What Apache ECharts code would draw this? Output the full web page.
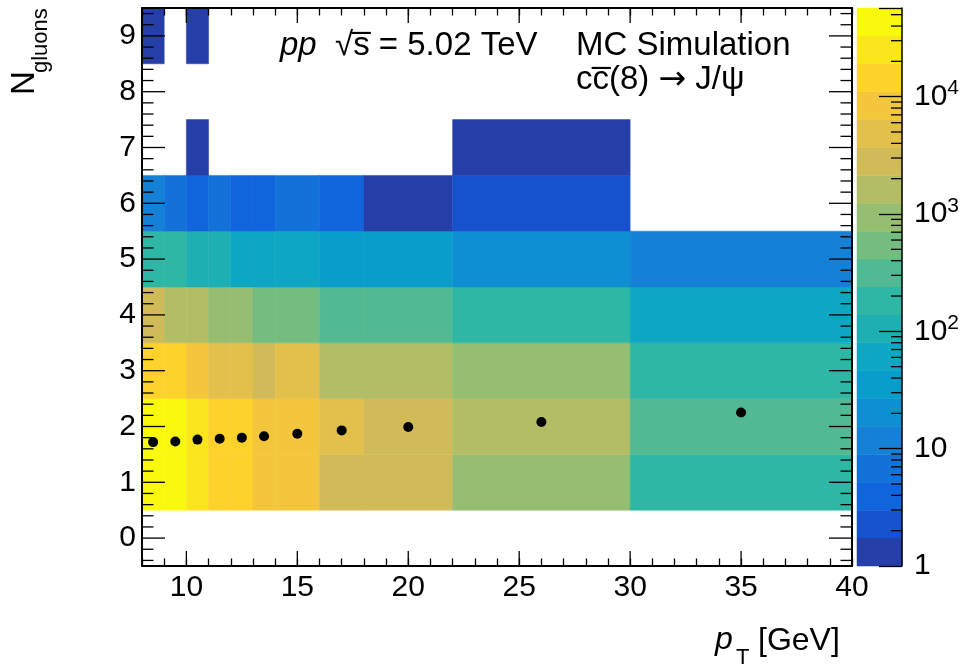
<!DOCTYPE html>
<html><head><meta charset="utf-8">
<script src="https://cdn.jsdelivr.net/npm/echarts@6/dist/echarts.min.js"></script>
<style>html,body{margin:0;padding:0;background:#fff}#c{width:969px;height:670px}</style>
</head><body><div id="c"></div>
<script>
// ---------------- data ----------------
const ptEdges = [8, 9, 10, 11, 12, 13, 14, 16, 18, 22, 30, 40];
const nGluonValues = [0, 1, 2, 3, 4, 5, 6, 7, 8, 9];
const countsNg0 = [0, 0, 0, 0, 0, 0, 0, 0, 0, 0, 0];
const countsNg1 = [43000, 43000, 25000, 14500, 14500, 8400, 8400, 2800, 2800, 930, 180];
const countsNg2 = [43000, 43000, 25000, 14500, 14500, 8400, 8400, 4800, 2800, 1600, 310];
const countsNg3 = [14500, 14500, 8400, 4800, 4800, 2800, 4800, 1600, 1600, 930, 180];
const countsNg4 = [2800, 1600, 1600, 930, 930, 540, 540, 310, 310, 180, 60];
const countsNg5 = [180, 180, 105, 105, 60, 60, 60, 35, 35, 20, 11];
const countsNg6 = [11, 6, 4, 6, 4, 4, 6, 4, 1, 2, 0];
const countsNg7 = [0, 0, 1, 0, 0, 0, 0, 0, 0, 1, 0];
const countsNg8 = [0, 0, 0, 0, 0, 0, 0, 0, 0, 0, 0];
const countsNg9 = [1, 0, 1, 0, 0, 0, 0, 0, 0, 0, 0];
const countsByNg = [countsNg0, countsNg1, countsNg2, countsNg3, countsNg4, countsNg5, countsNg6, countsNg7, countsNg8, countsNg9];

const meanPt = [8.5, 9.5, 10.5, 11.5, 12.5, 13.5, 15, 17, 20, 26, 35];
const meanNg = [1.72, 1.73, 1.765, 1.78, 1.80, 1.825, 1.87, 1.93, 1.99, 2.08, 2.25];

const xTickValues = [10, 15, 20, 25, 30, 35, 40];
const yTickValues = [0, 1, 2, 3, 4, 5, 6, 7, 8, 9];
const zTickValues = [1, 10, 100, 1000, 10000];
const zMin = 1, zMax = 57000, nContours = 20;

// ---------------- palette (ROOT kBird, 255 colours, 20 contours) ----------------
const stops = [0.0, 0.125, 0.25, 0.375, 0.5, 0.625, 0.75, 0.875, 1.0];
const red   = [0.2082, 0.0592, 0.0780, 0.0232, 0.1802, 0.5301, 0.8186, 0.9956, 0.9764];
const green = [0.1664, 0.3599, 0.5041, 0.6419, 0.7178, 0.7492, 0.7328, 0.7862, 0.9832];
const blue  = [0.5293, 0.8684, 0.8385, 0.7914, 0.6425, 0.4662, 0.3499, 0.1968, 0.0539];
const NCOL = 255;
const palette = [];
for (let g = 1; g < stops.length; g++) {
  const n = Math.floor(NCOL * stops[g]) - Math.floor(NCOL * stops[g - 1]);
  for (let c = 0; c < n; c++) {
    const f = c / n;
    const r = red[g - 1] + (red[g] - red[g - 1]) * f;
    const gg = green[g - 1] + (green[g] - green[g - 1]) * f;
    const b = blue[g - 1] + (blue[g] - blue[g - 1]) * f;
    palette.push('rgb(' + Math.round(r * 255) + ',' + Math.round(gg * 255) + ',' + Math.round(b * 255) + ')');
  }
}
const contourColors = [];
for (let i = 0; i < nContours; i++) {
  let idx = Math.floor((i + 0.99) * palette.length / nContours);
  if (idx > palette.length - 1) idx = palette.length - 1;
  contourColors.push(palette[idx]);
}
const lzMax = Math.log10(zMax), lzMin = Math.log10(zMin);
function colorFor(v) {
  let k = Math.floor((Math.log10(v) - lzMin) / (lzMax - lzMin) * nContours);
  k = Math.max(0, Math.min(nContours - 1, k));
  return contourColors[k];
}

const cells = [];
nGluonValues.forEach((ng, r) => {
  countsByNg[r].forEach((v, c) => {
    if (v > 0) cells.push([ptEdges[c], ptEdges[c + 1], ng, v]);
  });
});
const bands = [];
for (let i = 0; i < nContours; i++) {
  const lo = Math.pow(10, lzMin + (lzMax - lzMin) * i / nContours);
  const hi = Math.pow(10, lzMin + (lzMax - lzMin) * (i + 1) / nContours);
  bands.push([0, lo, hi, i]);
}
const points = meanPt.map((x, i) => [x, meanNg[i]]);

// tick positions (frame ticks drawn as small rect symbols through the axis scales)
const X0 = 8, X1 = 40, Y0 = -0.5, Y1 = 9.5;
const yMinorValues = [];
for (let k = -2; k <= 47; k++) { if (k % 5 !== 0) yMinorValues.push(+(k * 0.2).toFixed(1)); }
const zMinorValues = [];
for (let d = 1; d <= 10000; d *= 10) for (let m = 2; m <= 9; m++) if (m * d <= zMax) zMinorValues.push(m * d);

// ---------------- layout ----------------
const FONT = '"Liberation Sans", Arial, Helvetica, sans-serif';
const black = '#000';
const lineSt = { color: black, width: 2 };
const tickSt = { color: black, width: 1.3 };
const TW = 1.3;

function tickSeries(xi, yi, data, w, h, off) {
  return {
    type: 'scatter', xAxisIndex: xi, yAxisIndex: yi, data: data, z: 5, clip: false, silent: true,
    symbol: 'rect', symbolSize: [w, h], symbolOffset: off,
    itemStyle: { color: black, opacity: 1 }, emphasis: { disabled: true }
  };
}

const option = {
  animation: false,
  backgroundColor: '#fff',
  grid: [
    { left: 142, top: 8, width: 710, height: 558, show: false },
    { left: 857, top: 8, width: 45, height: 558, show: false }
  ],
  xAxis: [
    {
      gridIndex: 0, type: 'value', min: X0, max: X1, interval: 1, position: 'bottom', z: 10,
      axisLine: { show: true, onZero: false, lineStyle: lineSt },
      axisTick: { show: true, inside: true, length: 7.5, lineStyle: tickSt },
      axisLabel: { show: true, customValues: xTickValues, color: black, fontSize: 30, fontFamily: FONT, margin: 7 },
      splitLine: { show: false }
    },
    {
      gridIndex: 0, type: 'value', min: X0, max: X1, interval: 1, position: 'top', z: 10,
      axisLine: { show: true, onZero: false, lineStyle: lineSt },
      axisTick: { show: true, inside: true, length: 7.5, lineStyle: tickSt },
      axisLabel: { show: false }, splitLine: { show: false }
    },
    { gridIndex: 1, type: 'value', min: 0, max: 1, show: false }
  ],
  yAxis: [
    {
      gridIndex: 0, type: 'value', min: Y0, max: Y1, position: 'left', z: 10,
      axisLine: { show: true, onZero: false, lineStyle: lineSt },
      axisTick: { show: false },
      axisLabel: { show: true, customValues: yTickValues, color: black, fontSize: 30, fontFamily: FONT, margin: 6 },
      splitLine: { show: false }
    },
    {
      gridIndex: 0, type: 'value', min: Y0, max: Y1, position: 'right', z: 10,
      axisLine: { show: true, onZero: false, lineStyle: lineSt },
      axisTick: { show: false }, axisLabel: { show: false }, splitLine: { show: false }
    },
    {
      gridIndex: 1, type: 'log', logBase: 10, min: zMin, max: zMax, position: 'right', z: 10,
      axisLine: { show: true, onZero: false, lineStyle: { color: black, width: 1.5 } },
      axisTick: { show: true, inside: true, length: 23, lineStyle: tickSt },
      axisLabel: {
        show: true, customValues: zTickValues, color: black, fontSize: 30, fontFamily: FONT, margin: 12,
        formatter: v => (v < 50 ? String(Math.round(v)) : '10{sup|' + Math.round(Math.log10(v)) + '}'),
        rich: { sup: { fontSize: 21, fontFamily: FONT, color: black, verticalAlign: 'bottom', padding: [0, 0, 16, 0] } }
      },
      splitLine: { show: false }
    }
  ],
  series: [
    {
      type: 'custom', xAxisIndex: 0, yAxisIndex: 0, data: cells, z: 1,
      encode: { x: [0, 1], y: 2 },
      renderItem: (params, api) => {
        const x0 = api.value(0), x1 = api.value(1), y = api.value(2), v = api.value(3);
        const p0 = api.coord([x0, y - 0.5]);
        const p1 = api.coord([x1, y + 0.5]);
        const col = colorFor(v);
        return { type: 'rect', shape: { x: p0[0], y: p1[1], width: p1[0] - p0[0], height: p0[1] - p1[1] },
                 style: { fill: col, stroke: col, lineWidth: 0.5 } };
      }
    },
    {
      type: 'scatter', xAxisIndex: 0, yAxisIndex: 0, data: points, z: 3,
      symbol: 'circle', symbolSize: 10, itemStyle: { color: black, opacity: 1 }
    },
    {
      type: 'custom', xAxisIndex: 2, yAxisIndex: 2, data: bands, z: 1,
      encode: { x: 0, y: [1, 2] },
      renderItem: (params, api) => {
        const lo = api.value(1), hi = api.value(2), i = api.value(3);
        const p0 = api.coord([0, lo]);
        const p1 = api.coord([1, hi]);
        const col = contourColors[i];
        return { type: 'rect', shape: { x: p0[0], y: p1[1], width: p1[0] - p0[0], height: p0[1] - p1[1] },
                 style: { fill: col, stroke: col, lineWidth: 0.5 } };
      }
    },
    // frame ticks
    tickSeries(0, 0, xTickValues.map(v => [v, Y0]), TW, 15, [0, -7.5]),
    tickSeries(0, 0, xTickValues.map(v => [v, Y1]), TW, 15, [0, 7.5]),
    tickSeries(0, 0, yTickValues.map(v => [X0, v]), 23, TW, [11.5, 0]),
    tickSeries(0, 0, yTickValues.map(v => [X1, v]), 23, TW, [-11.5, 0]),
    tickSeries(0, 0, yMinorValues.map(v => [X0, v]), 11.5, TW, [5.75, 0]),
    tickSeries(0, 0, yMinorValues.map(v => [X1, v]), 11.5, TW, [-5.75, 0]),
    // colour-bar minor ticks (2..9 x 10^k) on the log axis
    tickSeries(2, 2, zMinorValues.map(v => [1, v]), 11, TW, [-5.5, 0])
  ],
  graphic: [
    { type: 'text', x: 280, y: 45.5, z: 10, style: { text: '{i|pp}  √s\u0305 = 5.02 TeV', fontSize: 33, fontFamily: FONT, fill: black, verticalAlign: 'middle',
      rich: { i: { fontStyle: 'italic', fontSize: 33, fontFamily: FONT } } } },
    { type: 'text', x: 576, y: 45.5, z: 10, style: { text: 'MC Simulation', fontSize: 33, fontFamily: FONT, fill: black, verticalAlign: 'middle' } },
    { type: 'text', x: 576, y: 80, z: 10, style: { text: 'cc\u0305(8) {a|\u2192} J/\u03C8', fontSize: 33, fontFamily: FONT, fill: black, verticalAlign: 'middle',
      rich: { a: { fontFamily: '"DejaVu Sans"', fontSize: 33 } } } },
    { type: 'text', x: 715, y: 640, z: 10, style: { text: 'p', fontSize: 32, fontStyle: 'italic', fontFamily: FONT, fill: black, verticalAlign: 'middle' } },
    { type: 'text', x: 736, y: 658, z: 10, style: { text: 'T', fontSize: 22, fontFamily: FONT, fill: black, verticalAlign: 'middle' } },
    { type: 'text', x: 758, y: 641, z: 10, style: { text: '[GeV]', fontSize: 32, fontFamily: FONT, fill: black, verticalAlign: 'middle' } },
    { type: 'text', x: 25, y: 95, rotation: Math.PI / 2, z: 10, style: { text: 'N', fontSize: 33, fontFamily: FONT, fill: black, verticalAlign: 'middle', align: 'left' } },
    { type: 'text', x: 41, y: 73, rotation: Math.PI / 2, z: 10, style: { text: 'gluons', fontSize: 22, fontFamily: FONT, fill: black, verticalAlign: 'middle', align: 'left' } }
  ]
};
const chart = echarts.init(document.getElementById('c'), null, { renderer: 'canvas' });
chart.setOption(option);
</script></body></html>
